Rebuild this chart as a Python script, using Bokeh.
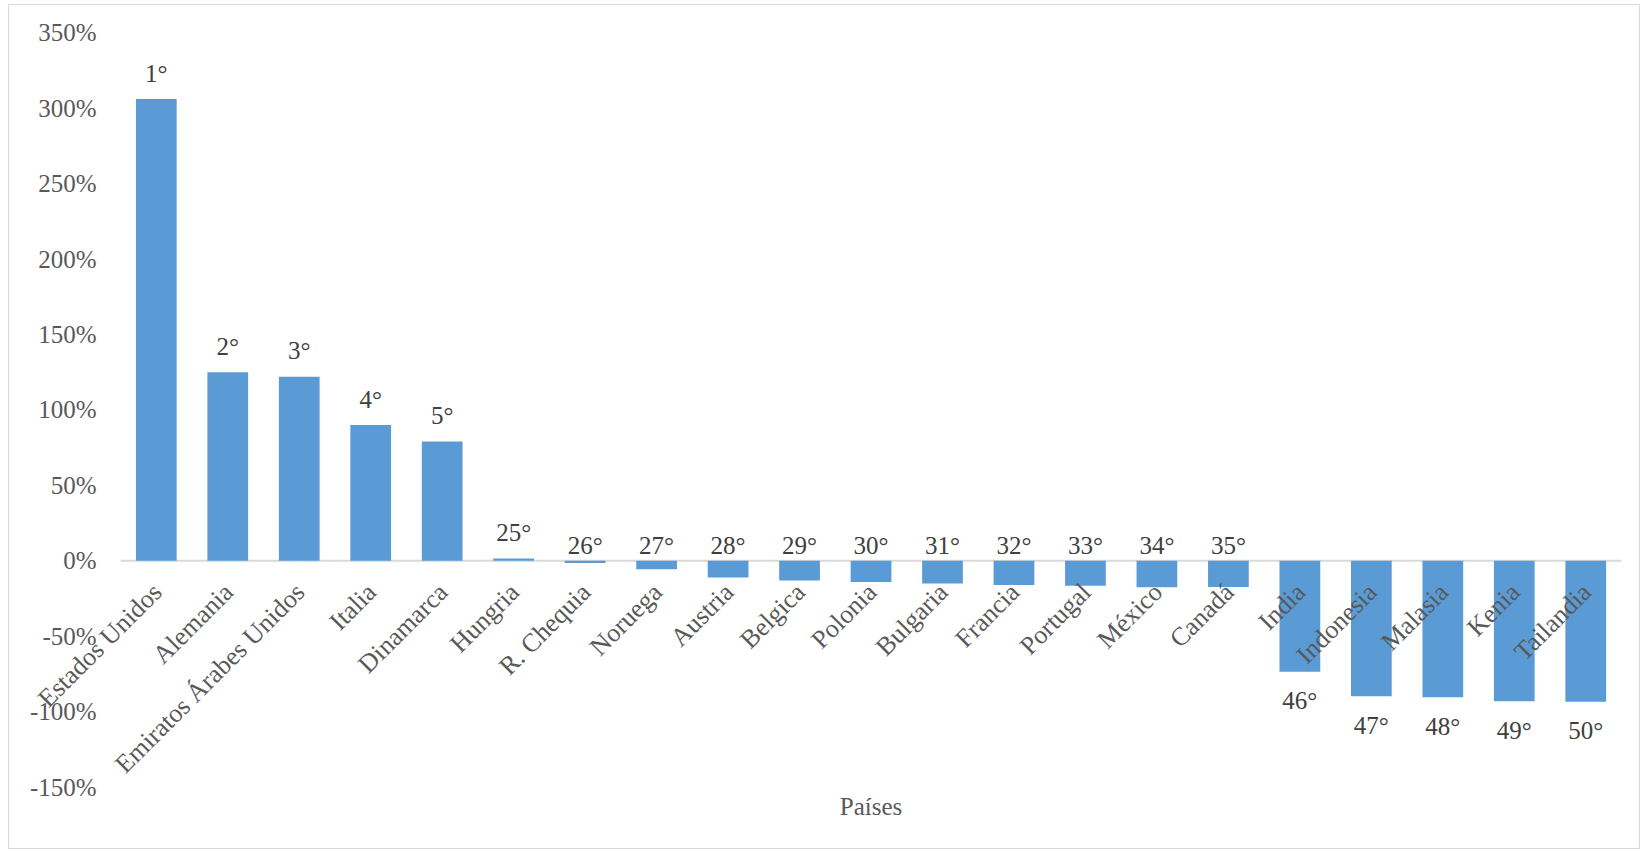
import math
import numpy as np
from bokeh.plotting import figure
from bokeh.models import (Range1d, FixedTicker, NumeralTickFormatter,
                          ColumnDataSource, Label)
from bokeh.core.properties import value
from bokeh.embed import file_html
from bokeh.resources import INLINE

categories = ["Estados Unidos", "Alemania", "Emiratos Árabes Unidos", "Italia", "Dinamarca",
              "Hungria", "R. Chequia", "Noruega", "Austria", "Belgica", "Polonia", "Bulgaria",
              "Francia", "Portugal", "México", "Canadá", "India", "Indonesia", "Malasia",
              "Kenia", "Tailandia"]
values = [3.06, 1.25, 1.22, 0.90, 0.79, 0.015, -0.015, -0.055, -0.11, -0.13, -0.14, -0.15,
          -0.16, -0.165, -0.175, -0.173, -0.735, -0.897, -0.904, -0.931, -0.934]
ranks = ["1°", "2°", "3°", "4°", "5°", "25°", "26°", "27°", "28°", "29°", "30°", "31°",
         "32°", "33°", "34°", "35°", "46°", "47°", "48°", "49°", "50°"]
y_ticks = [-1.5, -1.0, -0.5, 0.0, 0.5, 1.0, 1.5, 2.0, 2.5, 3.0, 3.5]
x_title = "Países"

FONT = "Liberation Serif"
TXT = "#595959"
FS = "25px"

n = len(categories)
xpos = np.arange(n) + 0.5  # centre of each category slot

# the frame reaches further left/up/down than the bars so that the long rotated
# category names and the end tick labels are not clipped; the value axis is pinned at x = 0
p = figure(x_range=Range1d(-1.4, n), y_range=Range1d(-1.78, 3.62),
           width=1632, height=845, output_backend="svg", toolbar_location=None,
           min_border_left=11, min_border_right=20, min_border_top=9, min_border_bottom=21)
p.styles = {"border": "1px solid #d9d9d9", "margin-left": "8px", "margin-top": "4px"}
p.outline_line_color = None
p.grid.visible = False
p.background_fill_color = "white"

# zero line across the category area
p.segment(x0=[0], x1=[n], y0=[0], y1=[0], line_color="#d9d9d9", line_width=2)

src = ColumnDataSource(dict(x=xpos, v=values, cat=categories))
p.vbar(x="x", top="v", bottom=0, width=0.57, source=src, fill_color="#5B9BD5", line_color=None)

# data labels (text glyph: positive y_offset goes down)
vals = np.array(values)
lab_y = np.where(vals >= 0, vals, np.where(vals > -0.5, 0.0, vals))
lab_off = np.where(vals >= 0, -26.0, np.where(vals > -0.5, -15.0, 29.0))
lsrc = ColumnDataSource(dict(x=xpos, y=lab_y, t=ranks, off=lab_off))
p.text(x="x", y="y", text="t", y_offset="off", source=lsrc, text_align="center",
       text_baseline="middle", text_font=value(FONT), text_font_size=FS, text_color="#404040")

# category labels next to the zero line
p.text(x=xpos, y=[0.0] * n, text=categories, angle=math.pi / 4,
       text_align="right", text_baseline="middle", x_offset=1, y_offset=27,
       text_font=value(FONT), text_font_size="26px", text_color=TXT)

# axis title
p.add_layout(Label(x=n / 2, y=y_ticks[0], text=x_title, text_align="center",
                   text_baseline="middle", y_offset=-19, text_font=FONT,
                   text_font_size=FS, text_color=TXT))

# y axis pinned at the start of the categories
p.yaxis.fixed_location = 0
p.yaxis.ticker = FixedTicker(ticks=y_ticks)
p.yaxis.formatter = NumeralTickFormatter(format="0%")
p.yaxis.axis_line_color = None
p.yaxis.major_tick_line_color = None
p.yaxis.minor_tick_line_color = None
p.yaxis.major_tick_out = 0
p.yaxis.major_tick_in = 0
p.yaxis.major_label_standoff = 24
p.yaxis.major_label_text_font = FONT
p.yaxis.major_label_text_font_size = FS
p.yaxis.major_label_text_color = TXT

p.xaxis.visible = False

open("out.html", "w").write(file_html(p, INLINE))
